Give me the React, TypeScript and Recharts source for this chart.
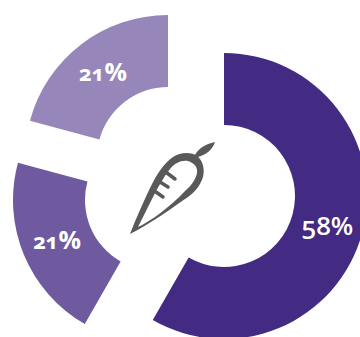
import { PieChart, Pie, Cell } from 'recharts';

const names = ['Grupo A', 'Grupo B', 'Grupo C'];
const values = [58.3, 20.9, 20.8];
const colors = ['#432a82', '#6f5a9f', '#9786b9'];
// each slice is pulled out of the ring, so each one has its own centre
const centers = [
  { cx: 224, cy: 196 },
  { cx: 156, cy: 200 },
  { cx: 168, cy: 158 },
];

const chartData = names.map((name, i) => ({ name, value: values[i] }));

const RADIAN = Math.PI / 180;

const sliceLabel = (own: number) => (props: any) => {
  if (props.index !== own) return null;
  const r = (props.innerRadius + props.outerRadius) / 2;
  const x = props.cx + r * Math.cos(-props.midAngle * RADIAN);
  const y = props.cy + r * Math.sin(-props.midAngle * RADIAN);
  const digits = String(Math.round(props.value));
  const base = { fontFamily: '"Open Sans", Lato, sans-serif', fill: '#ffffff', fontFeatureSettings: '"onum"' };
  if (own === 0) {
    return (
      <text x={x} y={y + 11} textAnchor="middle" style={{ ...base, fontSize: 26, fontWeight: 600 }}>
        {digits}%
      </text>
    );
  }
  return (
    <text x={x} y={y + 8} textAnchor="middle" style={{ ...base, fontWeight: 700 }}>
      <tspan fontSize={22}>{digits}</tspan>
      <tspan fontSize={25}>%</tspan>
    </text>
  );
};

const Carrot = () => (
  <svg width={360} height={337} style={{ position: 'absolute', left: 0, top: 0 }}>
    <path
      fillRule="evenodd"
      fill="#595959"
      d="M130 234 C136 218 143 203 150 188 C157 174 164 163 173 157 C180 152 190 152 196 155 C203 160 205 169 203 177 C200 186 195 192 188 197 C172 208 150 224 130 234 Z M138 227 C151 221 170 207 185 191 C191 186 196 179 197 173 C198 167 194 163 188 161 C181 160 175 163 170 169 C163 178 158 187 153 197 C148 207 143 217 138 227 Z"
    />
    <path fill="#595959" d="M195 155 C198 149 205 144 215 142 C213 149 206 155 198 157 Z" />
    <path
      fill="none"
      stroke="#595959"
      strokeWidth={3.5}
      strokeLinecap="round"
      d="M167 173 L175 179 M160 182 L168 187 M156 192 L163 197"
    />
  </svg>
);

export default function App() {
  return (
    <div style={{ position: 'absolute', left: 0, top: 0, width: 360, height: 337, overflow: 'hidden' }}>
      <PieChart width={360} height={337} margin={{ top: 0, right: 0, bottom: 0, left: 0 }}>
        {centers.map((c, own) => (
          <Pie
            key={own}
            data={chartData}
            dataKey="value"
            cx={c.cx}
            cy={c.cy}
            innerRadius={71}
            outerRadius={143}
            startAngle={90}
            endAngle={-270}
            stroke="none"
            label={sliceLabel(own)}
            labelLine={false}
            isAnimationActive={false}
          >
            {chartData.map((_, i) => (
              <Cell key={i} fill={i === own ? colors[i] : 'transparent'} />
            ))}
          </Pie>
        ))}
      </PieChart>
      <Carrot />
    </div>
  );
}
